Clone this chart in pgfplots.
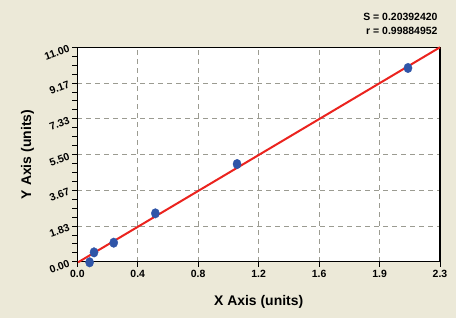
\documentclass[border=0pt]{standalone}
\usepackage{fontspec}
\setmainfont{Liberation Sans}
\usepackage{pgfplots}
\pgfplotsset{compat=1.18}
\definecolor{bg}{RGB}{236,233,216}
\definecolor{dot}{RGB}{47,85,168}
\definecolor{fitc}{RGB}{235,35,30}
\definecolor{gridc}{RGB}{155,155,145}
\begin{document}
\begin{tikzpicture}
\useasboundingbox (0bp,0bp) rectangle (471bp,321bp);
\fill[white] (0bp,0bp) rectangle (471bp,321bp);
\fill[bg] (0bp,3bp) rectangle (456bp,321bp);
\begin{axis}[
  at={(77.3bp,59.3bp)}, anchor=south west, scale only axis,
  width=362.7bp, height=214.4bp,
  xmin=0, xmax=2.3, ymin=0, ymax=11,
  axis background/.style={fill=white},
  axis line style={line width=1.1bp, black},
  clip=false,
  xtick={0,0.383333,0.766667,1.15,1.533333,1.916667,2.3},
  xticklabels={0.0,0.4,0.8,1.2,1.6,1.9,2.3},
  ytick={0,1.833333,3.666667,5.5,7.333333,9.166667,11},
  yticklabels={0.00,1.83,3.67,5.50,7.33,9.17,11.00},
  minor tick num=3,
  tick align=outside, xtick pos=bottom, ytick pos=left,
  major tick length=5bp, minor tick length=5bp,
  tick style={black, line width=0.8bp},
  grid=major,
  major grid style={gridc, dash pattern=on 5bp off 4bp, line width=0.8bp},
  ticklabel style={font=\bfseries\fontsize{10.5}{12}\selectfont},
  yticklabel style={rotate=20, anchor=east},
  xlabel={X Axis (units)}, ylabel={Y Axis (units)},
  label style={font=\bfseries\fontsize{14}{16}\selectfont},
  xlabel style={at={(axis description cs:0.5,-0.188)}, anchor=center},
  ylabel style={at={(axis description cs:-0.1373,0.5)}, anchor=center},
]
\addplot[fitc, line width=2bp] coordinates {(0.005,-0.03) (2.3,11)};
\addplot[only marks, mark=*, mark size=4.8bp, mark options={fill=dot, draw=dot, xscale=0.85}]
  coordinates {
  (0.078,-0.03) (0.106,0.48) (0.231,0.975) (0.495,2.48) (1.013,5.01) (2.097,9.94)
  };
\end{axis}
\node[anchor=east, font=\bfseries\fontsize{10.5}{12}\selectfont] at (441bp,304.3bp) {S = 0.20392420};
\node[anchor=east, font=\bfseries\fontsize{10.5}{12}\selectfont] at (441bp,290bp) {r = 0.99884952};
\end{tikzpicture}
\end{document}
